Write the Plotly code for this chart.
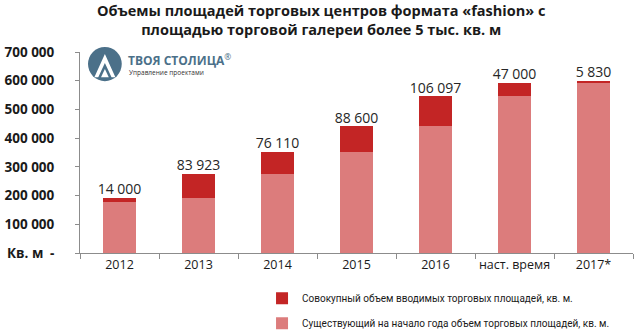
import plotly.graph_objects as go

categories = ["2012", "2013", "2014", "2015", "2016", "наст. время", "2017*"]
existing = [178000, 192000, 275923, 352033, 440633, 546730, 593730]
added = [14000, 83923, 76110, 88600, 106097, 47000, 5830]
y_tickvals = [0, 100000, 200000, 300000, 400000, 500000, 600000, 700000]

def fmt(v):
    return f"{v:,}".replace(",", " ")

y_ticktext = ["-"] + [fmt(v) for v in y_tickvals[1:]]
totals = [e + a for e, a in zip(existing, added)]

FONT = "Open Sans"
fig = go.Figure()
fig.add_trace(go.Bar(
    x=categories, y=existing,
    name="Существующий на начало года объем торговых площадей, кв. м.",
    marker=dict(color="#dc7c7c", line=dict(width=0)),
    legendrank=2, legendgroup="b",
))
fig.add_trace(go.Bar(
    x=categories, y=added,
    name="Совокупный объем вводимых торговых площадей, кв. м.",
    marker=dict(color="#c32525", line=dict(width=0)),
    legendrank=1, legendgroup="a",
))
fig.add_trace(go.Scatter(
    x=categories, y=totals, mode="text",
    text=[fmt(v) for v in added], textposition="top center",
    textfont=dict(family=FONT, size=14, color="#262626"),
    showlegend=False, cliponaxis=False, hoverinfo="skip",
))

fig.update_layout(
    width=636, height=335,
    margin=dict(l=80, r=3, t=52, b=82, autoexpand=False),
    paper_bgcolor="white", plot_bgcolor="white",
    barmode="stack", bargap=0.59,
    font=dict(family=FONT, color="#1a1a1a"),
    title=dict(
        text="Объемы площадей торговых центров формата «fashion» с<br>площадью торговой галереи более 5 тыс. кв. м",
        x=0.505, xref="container", xanchor="center", y=0.952, yref="container", yanchor="top",
        font=dict(family=FONT, size=14.5, color="#1a1a1a", weight="bold"),
        automargin=False,
    ),
    showlegend=True,
    legend=dict(
        x=0.412, xref="container", y=0.153, yref="container", xanchor="left", yanchor="top",
        font=dict(family="Roboto", size=10, color="#1a1a1a"),
        bgcolor="rgba(0,0,0,0)", tracegroupgap=6, traceorder="grouped",
    ),
    xaxis=dict(
        type="category", showline=True, linecolor="#8c8c8c", linewidth=1,
        ticks="outside", tickson="boundaries", ticklen=5, tickcolor="#8c8c8c",
        tickfont=dict(family=FONT, size=12.5, color="#1a1a1a"), tickangle=0,
        showgrid=False, zeroline=False, automargin=False,
    ),
    yaxis=dict(
        range=[0, 700000], tickvals=y_tickvals, ticktext=y_ticktext,
        showline=True, linecolor="#8c8c8c", linewidth=1,
        ticks="outside", ticklen=4, tickcolor="#8c8c8c",
        tickfont=dict(family=FONT, size=13.5, color="#1a1a1a", weight="bold"),
        showgrid=False, zeroline=False, ticklabelstandoff=18, automargin=False,
    ),
)

# "Кв. м" unit label
fig.add_annotation(xref="paper", yref="paper", x=-0.135, y=0, xanchor="left",
                   yanchor="middle", showarrow=False, text="<b>Кв. м</b>",
                   font=dict(family=FONT, size=13.5, color="#1a1a1a"))

# Logo
logo_col = "#4b7089"
fig.add_shape(type="circle", xref="paper", yref="paper",
              x0=0.0145, x1=0.0755, y0=0.855, y1=1.025,
              fillcolor=logo_col, line=dict(width=0))
fig.add_shape(type="path", xref="paper", yref="paper",
              path="M 0.026 0.875 L 0.045 0.99 L 0.064 0.875 L 0.057 0.875 L 0.045 0.945 L 0.033 0.875 Z",
              fillcolor="white", line=dict(width=0))
fig.add_shape(type="path", xref="paper", yref="paper",
              path="M 0.038 0.875 L 0.045 0.915 L 0.052 0.875 Z",
              fillcolor="white", line=dict(width=0))
fig.add_annotation(xref="paper", yref="paper", x=0.083, y=0.96, xanchor="left",
                   yanchor="middle", showarrow=False, text="<b>ТВОЯ СТОЛИЦА</b><sup>®</sup>",
                   font=dict(family=FONT, size=12, color=logo_col))
fig.add_annotation(xref="paper", yref="paper", x=0.085, y=0.9, xanchor="left",
                   yanchor="middle", showarrow=False, text="Управление проектами",
                   font=dict(family=FONT, size=6.5, color="#333333"))

fig.write_html("out.html")
